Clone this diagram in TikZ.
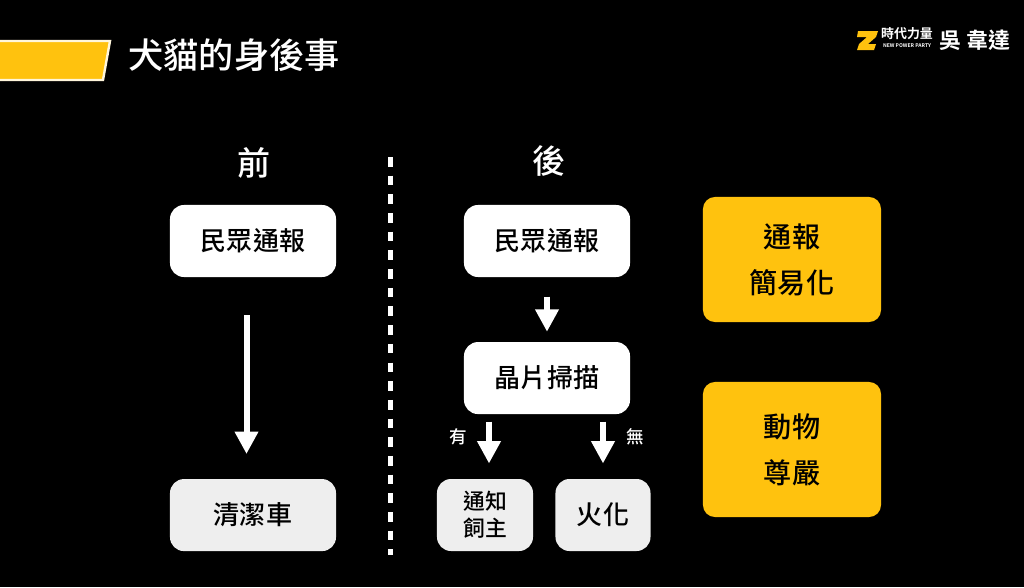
\documentclass[tikz,border=0pt]{standalone}
\usepackage{fontspec}
\setmainfont{Noto Sans CJK TC}[BoldFont={* Bold}]
\newfontfamily\midfont{Noto Sans CJK TC Medium}
\usetikzlibrary{arrows.meta,positioning,calc}
\usepackage{xcolor}
\definecolor{partygold}{RGB}{255,194,14}
\definecolor{softgrey}{RGB}{238,238,238}

\begin{document}
\begin{tikzpicture}[x=0.025cm, y=-0.025cm, node distance=3.425cm,
    block/.style={rectangle, fill=white, draw=none, text=black, align=center, rounded corners=0.35cm, minimum width=4.15cm, minimum height=1.8cm, inner sep=0pt, font=\fontsize{18.5}{22}\selectfont\midfont},
    endblock/.style={block, fill=softgrey},
    smallblock/.style={endblock, minimum width=2.4cm, font=\fontsize{15.5}{20}\selectfont\midfont},
    goldblock/.style={block, fill=partygold, minimum width=4.45cm, rounded corners=0.3cm, font=\fontsize{20}{32.7}\selectfont\midfont},
    heading/.style={text=white, inner sep=0pt, font=\fontsize{23.5}{26}\selectfont\midfont},
    branch/.style={text=white, inner sep=0pt, font=\fontsize{12.5}{15}\selectfont\midfont},
    flow/.style={draw=white, line width=0.15cm, -{Triangle[width=0.56cm,length=0.56cm]}}]
    \useasboundingbox (0,0) rectangle (1024,587);
    \fill[black] (0,0) rectangle (1024,587);

    % title bar
    \fill[partygold, draw=white!85!partygold, line width=0.06cm] (-5,41) -- (110,41) -- (103,80) -- (-5,80) -- cycle;
    \node [text=white, inner sep=0pt, font=\fontsize{25}{28}\selectfont\midfont] (title) at (234,55) {犬貓的身後事};

    % logo
    \fill[partygold] (858,31) -- (878,31) -- (876,37) -- (868,44) -- (876,44) -- (874,50) -- (857,50) -- (859,44) -- (867,37) -- (857,37) -- cycle;
    \node [text=white, inner sep=0pt, font=\fontsize{9.2}{10}\selectfont\bfseries] (party) at (907,34) {時代力量};
    \node [text=white, inner sep=0pt, font=\fontsize{3.6}{4}\selectfont\bfseries] (partyen) at (907,46) {NEW POWER PARTY};
    \node [text=white, inner sep=0pt, font=\fontsize{15.5}{18}\selectfont\bfseries] (speaker) at (975,40) {吳 韋達};

    % before
    \node [heading] (before) at (254,163) {前};
    \node [block] (reportl) at (253,241) {民眾通報};
    \node [endblock, below of=reportl, yshift=-3.425cm] (truck) {清潔車};
    \coordinate (downx) at (246.5,400);
    \draw[flow, shorten <=0.95cm, shorten >=0.62cm] (reportl.south -| downx) -- (truck.north -| downx);

    % divider
    \coordinate (divtop) at (390.5,157);
    \coordinate (divbot) at (390.5,555);
    \draw[white, line width=0.125cm, dash pattern=on 0.24cm off 0.227cm] (divtop) -- (divbot);

    % after
    \node [heading] (after) at (549,161) {後};
    \node [block] (reportr) at (547,241) {民眾通報};
    \node [block, below of=reportr] (scan) {晶片掃描};
    \node [smallblock] (owner) at (485,515) {通知\\[-1pt]飼主};
    \node [endblock, minimum width=2.375cm] (burn) at (603,515) {火化};
    \coordinate (yesx) at (489,450);
    \coordinate (nox) at (603,450);
    \draw[flow, shorten <=0.48cm, shorten >=0.25cm] (reportr) -- (scan);
    \draw[flow, shorten <=0.18cm, shorten >=0.38cm] (scan.south -| yesx) -- (owner.north -| yesx);
    \draw[flow, shorten <=0.18cm, shorten >=0.38cm] (scan.south -| nox) -- (burn.north -| nox);
    \node [branch] (yes) at (458,437) {有};
    \node [branch] (no) at (635,437) {無};

    % results
    \node [goldblock, minimum height=3.125cm] (simple) at (792,259.5) {通報\\簡易化};
    \node [goldblock, minimum height=3.375cm] (dignity) at (792,449.5) {動物\\尊嚴};
\end{tikzpicture}
\end{document}
